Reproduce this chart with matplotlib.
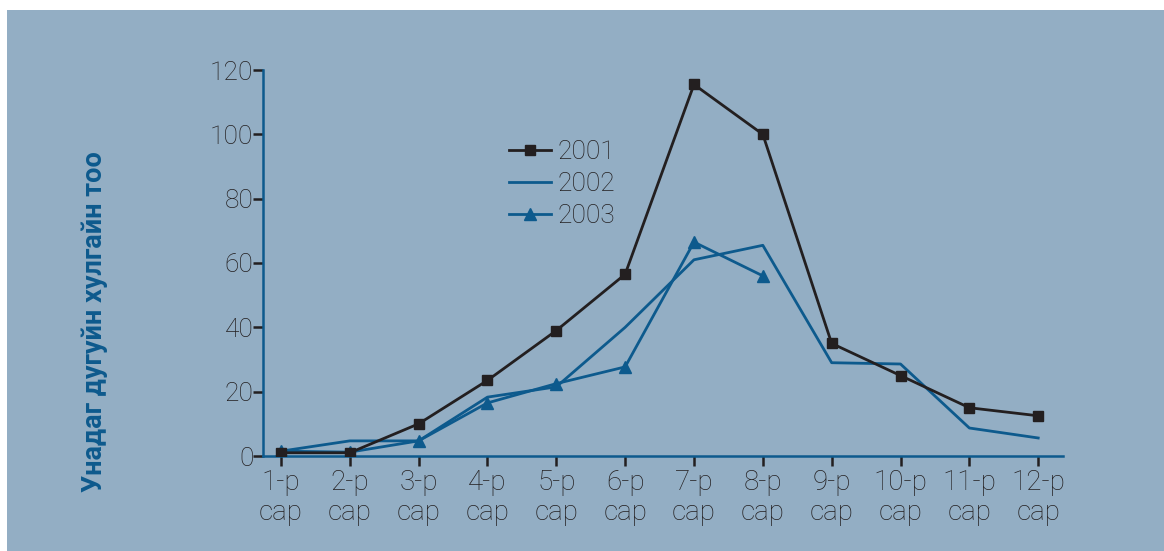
import matplotlib
matplotlib.use("Agg")
import matplotlib.pyplot as plt
from matplotlib.patches import Rectangle

months = ["1-р\nсар", "2-р\nсар", "3-р\nсар", "4-р\nсар", "5-р\nсар", "6-р\nсар",
          "7-р\nсар", "8-р\nсар", "9-р\nсар", "10-р\nсар", "11-р\nсар", "12-р\nсар"]
s2001 = [1, 1, 10, 23.5, 39, 56.5, 115.5, 100, 35, 25, 15, 12.5]
s2002 = [1.5, 4.7, 4.7, 18.3, 21.5, 40, 61, 65.5, 29, 28.6, 8.7, 5.6]
s2003 = [1.5, 1.2, 4.7, 16.5, 22.5, 27.7, 66.5, 56]
yticks = [0, 20, 40, 60, 80, 100, 120]
ylabel = "Унадаг дугуйн хулгайн тоо"

BG = "#93aec4"
DARK = "#231f20"
BLUE = "#0d5a8d"

plt.rcParams["font.family"] = ["Roboto", "DejaVu Sans"]

fig = plt.figure(figsize=(11.64, 5.51), dpi=100)
fig.patch.set_facecolor("white")
fig.patches.append(Rectangle((7/1164, 0), 1, 1 - 10/551, transform=fig.transFigure,
                             facecolor=BG, edgecolor="none", zorder=-10))

ax = fig.add_axes([263/1164, 1 - 456/551, 800/1164, 386/551])
ax.set_facecolor("none")

x = list(range(len(months)))
ax.plot(x, s2001, color=DARK, lw=2.0, marker="s", ms=6.5, label="2001", zorder=3)
ax.plot(x, s2002, color=BLUE, lw=2.0, label="2002", zorder=2)
ax.plot(x[:len(s2003)], s2003, color=BLUE, lw=2.0, marker="^", ms=8, label="2003", zorder=2)

ax.set_xlim(-0.26, 11.36)
ax.set_ylim(0, 120)
ax.set_yticks(yticks)
ax.set_yticklabels([str(v) for v in yticks])
ax.set_xticks(x)
ax.set_xticklabels(months, linespacing=1.15)

for s in ["top", "right"]:
    ax.spines[s].set_visible(False)
for s in ["left", "bottom"]:
    ax.spines[s].set_color(BLUE)
    ax.spines[s].set_linewidth(1.8)

ax.tick_params(axis="both", colors=DARK, labelsize=19, length=7, width=1.8, direction="out")
ax.tick_params(axis="y", pad=0)
ax.tick_params(axis="x", pad=2, labelsize=20)
for lab in ax.get_xticklabels() + ax.get_yticklabels():
    lab.set_fontweight("light")
    lab.set_color(DARK)

leg = ax.legend(loc="upper left", bbox_to_anchor=(246/800, 1 - 70/386), frameon=False,
                fontsize=19, handlelength=1.6, handletextpad=0.25, labelspacing=0.3,
                borderaxespad=0, borderpad=0)
for t in leg.get_texts():
    t.set_fontweight("light")
    t.set_color(DARK)

fig.text(95/1164, 1 - 322/551, ylabel, rotation=90, ha="center", va="center",
         color=BLUE, fontsize=19.5, fontweight="bold")

fig.savefig("out.png", dpi=100)
